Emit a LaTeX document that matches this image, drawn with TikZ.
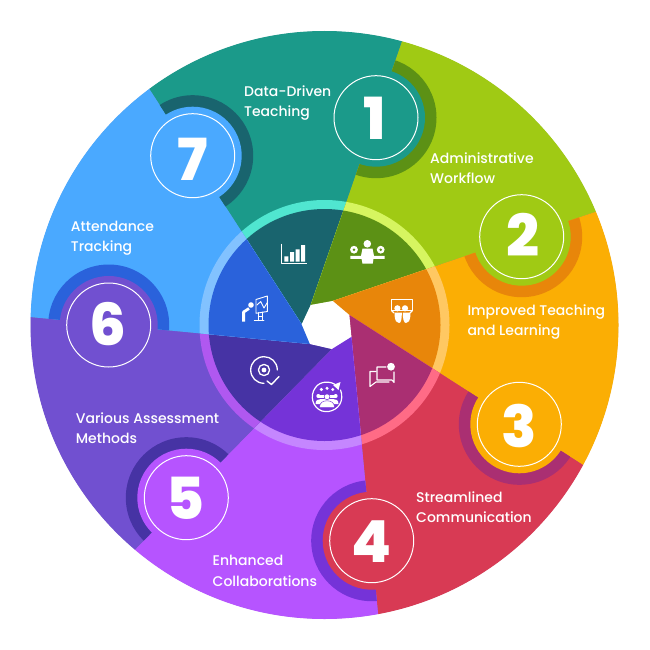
\documentclass[tikz,border=0pt]{standalone}
\usepackage{fontspec}
\setmainfont{Lato}
\newfontfamily\labelfont{Poppins Medium}
\newfontfamily\numfont{Poppins ExtraBold}
\usetikzlibrary{calc,arrows.meta}
\definecolor{cTeal}{HTML}{1B9A8A}\definecolor{dTeal}{HTML}{19646E}\definecolor{lTeal}{HTML}{50E6D0}
\definecolor{cGreen}{HTML}{A0CA14}\definecolor{dGreen}{HTML}{5C9115}\definecolor{lGreen}{HTML}{D6F560}
\definecolor{cOrange}{HTML}{FBAE04}\definecolor{dOrange}{HTML}{E8860A}\definecolor{lOrange}{HTML}{FFC862}
\definecolor{cRed}{HTML}{D83A54}\definecolor{dRed}{HTML}{AA2F72}\definecolor{lRed}{HTML}{FF6B86}
\definecolor{cPurple}{HTML}{B654FF}\definecolor{dPurple}{HTML}{7533D8}\definecolor{lPurple}{HTML}{C586FF}
\definecolor{cIndigo}{HTML}{7150D0}\definecolor{dIndigo}{HTML}{4633A4}\definecolor{lIndigo}{HTML}{B058F0}
\definecolor{cSky}{HTML}{4AA9FF}\definecolor{dSky}{HTML}{2A62DB}\definecolor{lSky}{HTML}{82C2FF}
\definecolor{cUnder}{HTML}{7C7C9C}
\tikzset{
  lbl/.style={text=white,anchor=base west,inner sep=0pt,font=\labelfont\fontsize{14}{20}\selectfont,align=left},
  numlbl/.style={text=white,inner sep=0pt,anchor=base,font=\numfont\fontsize{58}{58}\selectfont},
  numring/.style={draw=white,line width=1pt},
  icon/.style={draw=white,line width=1pt,fill=none,line cap=round,line join=round},
  iconfill/.style={fill=white,draw=none}
}
\newcommand\secfill[4]{\begin{scope}\clip #1;\fill[#2] (c) circle (294);\fill[#4] (c) circle (125);\fill[#3] (c) circle (116);\end{scope}}
\newcommand\badge[4]{\begin{scope}\clip #2;\clip (c) circle (294);\fill[#3] (#1) circle (60.5);\end{scope}\fill[#4] (#1) circle (49);}
\begin{document}
\begin{tikzpicture}[x=1pt,y=-1pt]
\useasboundingbox (0,0) rectangle (650,650);
\fill[white] (0,0) rectangle (650,650);
\coordinate (c) at (324.5,325);
% apex points
\coordinate (a1) at (310.7,305);
\coordinate (a2) at (332.7,301);
\coordinate (a3) at (349.3,315);
\coordinate (a3b) at (351.4,336.7);
\coordinate (a5) at (331.7,349);
\coordinate (a6) at (310,344);
\coordinate (a7) at (301.7,324.3);
% rim points, extended past the rim
\coordinate (e1) at ($(a1)!1.2!(402,41.5)$);
\coordinate (e2) at ($(a2)!1.2!(595,212)$);
\coordinate (e3) at ($(a3)!1.2!(583,465)$);
\coordinate (e4) at ($(a3)!1.2!(378,613)$);
\coordinate (e5) at ($(a5)!1.2!(136,548.5)$);
\coordinate (e6) at ($(a6)!1.2!(30,317)$);
\coordinate (e7) at ($(a7)!1.2!(150,90)$);
\def\sTeal{(a7) -- (e7) -- (e1) -- (a1) -- cycle}
\def\sGreen{(a1) -- (e1) -- (e2) -- (a2) -- cycle}
\def\sOrange{(a2) -- (e2) -- (e3) -- (a3) -- cycle}
\def\sRed{(a3) -- (e3) -- (e4) -- (a3b) -- cycle}
\def\sPurple{(a3b) -- (e4) -- (e5) -- (a5) -- cycle}
\def\sIndigo{(a5) -- (e5) -- (e6) -- (a6) -- cycle}
\def\sSky{(a6) -- (e6) -- (e7) -- (a7) -- cycle}
\fill[cUnder] (c) circle (293.6);
\secfill{\sTeal}{cTeal}{dTeal}{lTeal}
\secfill{\sGreen}{cGreen}{dGreen}{lGreen}
\secfill{\sOrange}{cOrange}{dOrange}{lOrange}
\secfill{\sRed}{cRed}{dRed}{lRed}
\secfill{\sPurple}{cPurple}{dPurple}{lPurple}
\secfill{\sIndigo}{cIndigo}{dIndigo}{lIndigo}
\secfill{\sSky}{cSky}{dSky}{lSky}
\fill[white] (a1) -- (a2) -- (a3) -- (a3b) -- (a5) -- (a6) -- (a7) -- cycle;
% badge centres
\coordinate (b1) at (376,117.7);
\coordinate (b2) at (521.7,236.7);
\coordinate (b3) at (519.3,424.3);
\coordinate (b4) at (371.7,540.7);
\coordinate (b5) at (186.3,497.7);
\coordinate (b6) at (108.7,325);
\coordinate (b7) at (192.7,155.7);
\badge{b1}{\sGreen}{dGreen}{cTeal}
\badge{b2}{\sOrange}{dOrange}{cGreen}
\badge{b3}{\sRed}{dRed}{cOrange}
\badge{b4}{\sPurple}{dPurple}{cRed}
\badge{b5}{\sIndigo}{dIndigo}{cPurple}
\badge{b6}{\sSky}{dSky}{cIndigo}
\badge{b7}{\sTeal}{dTeal}{cSky}
\foreach \b in {b1,b2,b3,b4,b5,b6,b7} \draw[numring] (\b) circle (42);
\node[numlbl] (n1) at (374.5,139.3) {1};
\node[numlbl] (n2) at (522.8,256) {2};
\node[numlbl] (n3) at (519.2,447) {3};
\node[numlbl] (n4) at (371.2,562) {4};
\node[numlbl] (n5) at (185.8,519) {5};
\node[numlbl] (n6) at (108.3,345) {6};
\node[numlbl] (n7) at (192.8,180) {7};
% labels
\node[lbl] (t1) at (244,96.7) {Data-Driven};
\node[lbl] (t1b) at (244,116.7) {Teaching};
\node[lbl] (t2) at (430,163.3) {Administrative};
\node[lbl] (t2b) at (430,183.3) {Workflow};
\node[lbl] (t3) at (467.3,315) {Improved Teaching};
\node[lbl] (t3b) at (467.3,335) {and Learning};
\node[lbl] (t4) at (416,502) {Streamlined};
\node[lbl] (t4b) at (416,522) {Communication};
\node[lbl] (t5) at (212.5,565.7) {Enhanced};
\node[lbl] (t5b) at (212.5,586) {Collaborations};
\node[lbl] (t6) at (75.7,423.3) {Various Assessment};
\node[lbl] (t6b) at (75.7,443.3) {Methods};
\node[lbl] (t7) at (70.7,231) {Attendance};
\node[lbl] (t7b) at (70.7,251) {Tracking};
% chart icon
\draw[icon,line width=.7pt,line cap=butt] (281,243.5) -- (281,263.3) -- (306.7,263.3);
\fill[iconfill] (284.3,256.3) rectangle (288.4,261.7) (290,252) rectangle (294,261.7) (295.7,249.3) rectangle (299.6,261.7) (301,245) rectangle (305,261.7);
% balance person icon
\fill[iconfill] (367.3,243.8) circle (3.8);
\fill[iconfill] (362.5,248.5) -- (372.5,248.5) -- (374,255.8) -- (384.5,255.8) -- (384.5,258.8) -- (373.5,258.8) -- (372.7,263.7) -- (362.5,263.7) -- (361.5,258.8) -- (350.3,258.8) -- (350.3,255.8) -- (361,255.8) -- cycle;
\fill[iconfill] (354,249.7) circle (3.9) (380.7,249.7) circle (3.9);
\fill[dGreen] (354,249.7) circle (1.4) (380.7,249.7) circle (1.4);
% slide icon
\draw[icon,line width=1.2pt] (391.5,299.5) -- (412.5,299.5) -- (412.5,310.5) -- (391.5,310.5) -- cycle;
\draw[icon,line width=1.2pt] (391.5,310.5) -- (394,313) (412.5,310.5) -- (410,313);
\fill[iconfill] (397.4,308.3) circle (3.1) (405,308.3) circle (3.1);
\fill[iconfill] (394.5,312.5) .. controls (394.5,322) and (397,323) .. (399,323) .. controls (401,323) and (401.8,320) .. (401.8,312.5) -- cycle;
\fill[iconfill] (402.8,312.5) .. controls (402.8,320) and (404,323) .. (406,323) .. controls (408,323) and (410.5,322) .. (410.5,312.5) -- cycle;
% chat icon
\fill[iconfill] (391,366.7) circle (3.9);
\draw[icon,line width=1.05pt] (386,367) -- (377,367) -- (377,380) -- (392,380) -- (394,382.5) -- (394,372);
\draw[icon,line width=1.05pt] (376,371.5) -- (370,371.5) -- (370,386.5) -- (376,382) -- (389,382);
% community icon
\draw[icon,line width=1.2pt] (336.5,385.3) .. controls (330,380.5) and (320,381) .. (315.5,387.5) .. controls (309,396) and (313,408) .. (322,411) .. controls (331,413.5) and (341,408) .. (341.7,398) .. controls (342,395) and (341.5,392) .. (340.5,390);
\fill[iconfill] (340.5,382) -- (338.5,390) -- (333,385) -- cycle;
\fill[iconfill] (321.3,389.5) circle (1.7) (327,388.3) circle (1.7) (332.7,389.5) circle (1.7);
\fill[iconfill] (319,395) rectangle (335,398);
\fill[iconfill] (318.3,396) circle (2) (335.7,396) circle (2);
\fill[iconfill] (315.5,404) .. controls (315.5,400) and (318,399) .. (321,399) -- (333,399) .. controls (336,399) and (338.5,400) .. (338.5,404) -- cycle;
\fill[iconfill,draw=dPurple,line width=.5pt] (327,396.8) circle (2.9);
\fill[iconfill,draw=dPurple,line width=.5pt] (319.5,407.5) .. controls (319.5,402.5) and (323,400.8) .. (327,400.8) .. controls (331,400.8) and (334.5,402.5) .. (334.5,407.5) -- cycle;
% target icon
\draw[icon,line width=1.3pt] (277.3,370) .. controls (277.3,362) and (271,356.7) .. (264,356.7) .. controls (256.5,356.7) and (250.7,362.5) .. (250.7,370) .. controls (250.7,377.5) and (256.5,383.3) .. (264,383.3);
\draw[icon,line width=1.3pt] (264,370) circle (5.6);
\fill[iconfill] (264,370) circle (2.4);
\draw[icon,line width=1.4pt] (267,381) -- (271.5,384.5) -- (279,376.5);
% presenter icon
\fill[iconfill] (251,305) circle (2.8);
\draw[icon,line width=2.8pt,line cap=butt] (243.6,321.5) -- (243.6,312) -- (249,308.5);
\draw[icon,line width=.9pt] (256,299.5) -- (267.3,296) -- (267.3,311.5) -- (256,313.3) -- cycle;
\draw[icon,line width=.9pt] (257,305) -- (260.7,301.5) -- (264,308) -- (267,303);
\draw[icon,line width=.9pt] (258.3,312.5) -- (258.3,320.7) (262.7,312) -- (262.7,320.7) (258.3,316.5) -- (262.7,316.5) (254.3,320.7) -- (264,320.7);
\end{tikzpicture}
\end{document}
